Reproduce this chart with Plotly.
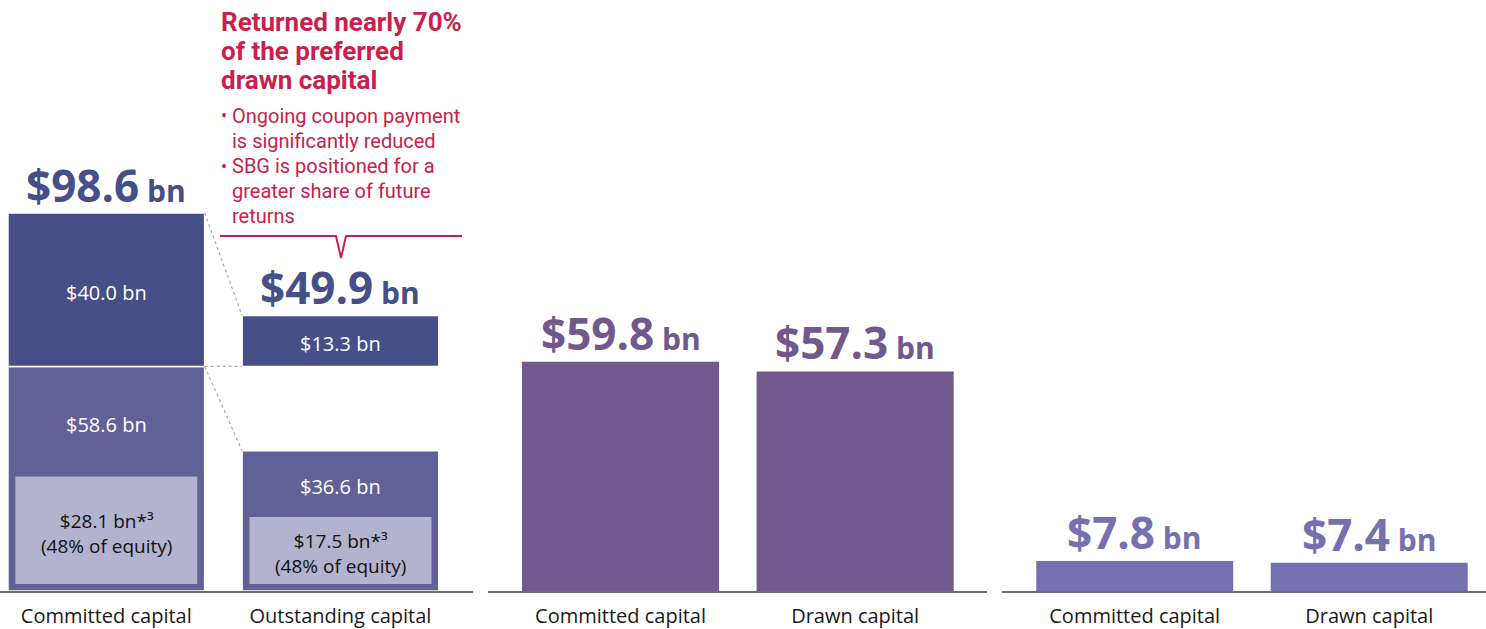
import plotly.graph_objects as go
from plotly.subplots import make_subplots

# data
cats_left = ['Committed capital', 'Outstanding capital']
lower_seg = [58.6, 36.6]        # lower (lighter) segment
upper_seg = [40.0, 13.3]        # upper (dark) segment
equity_part = [28.1, 17.5]      # inner box, 48% of equity
totals_left = [98.6, 49.9]

cats_mid = ['Committed capital', 'Drawn capital']
vals_mid = [59.8, 57.3]

cats_right = ['Committed capital', 'Drawn capital']
vals_right = [7.8, 7.4]

callout_title = ['Returned nearly 70%', 'of the preferred', 'drawn capital']
callout_lines = ['Ongoing coupon payment', 'is significantly reduced',
                 'SBG is positioned for a', 'greater share of future', 'returns']
bullet_rows = [0, 2]

# styles
W, H = 1486, 629
BASE_PX = 591
C_DARK = '#464F87'
C_MID = '#626197'
C_LIGHT = '#B3B3D0'
C_PURPLE = '#71598E'
C_LAV = '#7570B0'
C_RED = '#C8214D'
FONT = 'Open Sans'
BAR_W = 0.84
INNER_W = 0.777
PAD = 1.8
YMAX = 154.2


def px(x, y):
    # pixel position -> paper coords (no margins left/right/top)
    return x / W, (BASE_PX - y) / BASE_PX


def fmt(v):
    return '$%.1f bn' % v


def big_label(v, small=30):
    return "<b>$%.1f</b><b><span style='font-size:%dpx'> bn</span></b>" % (v, small)


fig = make_subplots(rows=1, cols=3)

# left panel
fig.add_trace(go.Bar(x=cats_left, y=lower_seg, base=[0, 0], width=BAR_W, marker_color=C_MID,
                     marker_line=dict(color='white', width=1.5)), row=1, col=1)
fig.add_trace(go.Bar(x=cats_left, y=upper_seg, base=[lower_seg[0]] * 2, width=BAR_W, marker_color=C_DARK,
                     marker_line=dict(color='white', width=1.5)), row=1, col=1)
fig.add_trace(go.Bar(x=cats_left, y=equity_part, base=[PAD] * 2, width=INNER_W, marker_color=C_LIGHT,
                     marker_line_width=0), row=1, col=1)

# middle and right panels
fig.add_trace(go.Bar(x=cats_mid, y=vals_mid, width=BAR_W, marker_color=C_PURPLE, marker_line_width=0),
              row=1, col=2)
fig.add_trace(go.Bar(x=cats_right, y=vals_right, width=BAR_W, marker_color=C_LAV, marker_line_width=0),
              row=1, col=3)

ann = []
# big totals
for i, c in enumerate(cats_left):
    top = lower_seg[0] + upper_seg[i] if i == 1 else totals_left[i]
    ann.append(dict(x=c, y=top, xref='x', yref='y', text=big_label(totals_left[i]), showarrow=False,
                    yanchor='bottom', yshift=-4, font=dict(size=44, color=C_DARK)))
for c, v in zip(cats_mid, vals_mid):
    ann.append(dict(x=c, y=v, xref='x2', yref='y2', text=big_label(v), showarrow=False,
                    yanchor='bottom', yshift=-3, font=dict(size=44, color=C_PURPLE)))
for c, v in zip(cats_right, vals_right):
    ann.append(dict(x=c, y=v, xref='x3', yref='y3', text=big_label(v), showarrow=False,
                    yanchor='bottom', yshift=-3, font=dict(size=44, color=C_LAV)))

# segment labels
for i, c in enumerate(cats_left):
    ann.append(dict(x=c, y=lower_seg[0] + upper_seg[i] / 2, xref='x', yref='y', text=fmt(upper_seg[i]),
                    showarrow=False, yshift=-3, font=dict(size=20, color='white')))
    ann.append(dict(x=c, y=(PAD + equity_part[i] + lower_seg[i]) / 2, xref='x', yref='y',
                    text=fmt(lower_seg[i]), showarrow=False, yshift=-3, font=dict(size=20, color='white')))
    ann.append(dict(x=c, y=PAD + equity_part[i] / 2, xref='x', yref='y',
                    text=fmt(equity_part[i]) + '*³<br>(48% of equity)',
                    showarrow=False, yshift=-3, font=dict(size=19, color='#111111')))

# callout text
for k, line in enumerate(callout_title):
    x, y = px(219, 22 + k * 29)
    ann.append(dict(x=x, y=y, xref='paper', yref='paper', text='<b>%s</b>' % line, showarrow=False,
                    xanchor='left', yanchor='middle', font=dict(family='Roboto', size=26, color=C_RED)))
for k, line in enumerate(callout_lines):
    x, y = px(230, 116 + k * 25)
    ann.append(dict(x=x, y=y, xref='paper', yref='paper', text=line, showarrow=False,
                    xanchor='left', yanchor='middle', font=dict(family='Roboto', size=20, color=C_RED)))
for k in bullet_rows:
    x, y = px(219, 116 + k * 25)
    ann.append(dict(x=x, y=y, xref='paper', yref='paper', text='•', showarrow=False,
                    xanchor='left', yanchor='middle', font=dict(family='Roboto', size=18, color=C_RED)))

shapes = []
# dotted connectors between the two left bars
edge0 = 0 + BAR_W / 2
edge1 = 1 - BAR_W / 2
for y0, y1 in [(totals_left[0], lower_seg[0] + upper_seg[1]),
               (lower_seg[0], lower_seg[0]),
               (lower_seg[0], lower_seg[1])]:
    shapes.append(dict(type='line', xref='x', yref='y', x0=edge0, y0=y0, x1=edge1, y1=y1,
                       line=dict(color='#AAAAAA', width=1.2, dash='dot')))

# callout bracket with notch
p = [px(220, 236), px(336, 236), px(341, 258), px(346, 236), px(462, 236)]
path = 'M ' + ' L '.join('%.5f,%.5f' % q for q in p)
shapes.append(dict(type='path', xref='paper', yref='paper', path=path,
                   line=dict(color=C_RED, width=2)))

fig.update_layout(
    width=W, height=H, margin=dict(l=0, r=0, t=0, b=H - BASE_PX),
    plot_bgcolor='white', paper_bgcolor='white', showlegend=False, barmode='overlay',
    font=dict(family=FONT, color='#1a1a1a'),
    annotations=ann, shapes=shapes,
    xaxis=dict(domain=[0, 473 / W], range=[-0.454, 1.566]),
    xaxis2=dict(domain=[488 / W, 987 / W], range=[-0.565, 1.562]),
    xaxis3=dict(domain=[1002 / W, 1], range=[-0.566, 1.498]),
)
fig.update_xaxes(showline=True, linecolor='#6D6D6D', linewidth=2, showgrid=False, zeroline=False,
                 ticks='', tickfont=dict(size=20, color='#1a1a1a'), ticklabelstandoff=6,
                 automargin=False)
fig.update_yaxes(range=[0, YMAX], visible=False, automargin=False)

# drop the browser's default body margin so the figure sits at the page origin
fig.write_html('out.html', config={'displayModeBar': False},
               post_script="document.body.style.margin='0';")
